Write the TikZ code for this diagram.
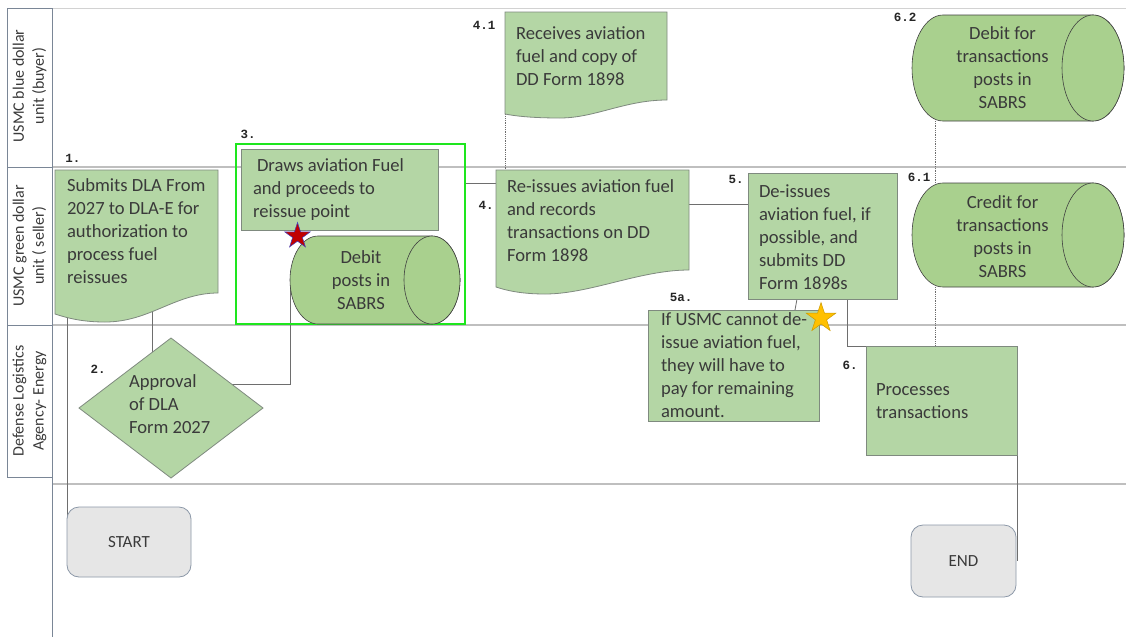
\documentclass[tikz,border=0pt]{standalone}
\usepackage{fontspec}
\setmainfont{Carlito}
\newfontfamily\labelmono{Liberation Mono}
\usetikzlibrary{shapes.geometric,calc}
\pgfdeclarelayer{lanes}\pgfdeclarelayer{links}\pgfdeclarelayer{shapes}
\pgfsetlayers{lanes,links,shapes,main}
\definecolor{boxgreen}{HTML}{B4D6A5}
\definecolor{cylgreen}{HTML}{A9D08E}
\definecolor{edgegray}{HTML}{7F8A7F}
\definecolor{txtgray}{HTML}{3A3A3A}
\definecolor{lanegray}{HTML}{BFBFBF}
\definecolor{labelline}{HTML}{7A8696}
\definecolor{termfill}{HTML}{E6E6E6}
\definecolor{termedge}{HTML}{8C98A8}
\definecolor{hlgreen}{HTML}{1EE61E}
\definecolor{linkgray}{HTML}{6E6E6E}
\definecolor{starred}{HTML}{C00000}
\definecolor{stargold}{HTML}{FFC000}
\tikzset{
 boxstyle/.style={draw=edgegray, fill=boxgreen, line width=0.8pt, inner sep=0pt, outer sep=0pt},
 docbox/.style={draw=none, inner sep=0pt, outer sep=0pt},
 docshape/.style={draw=edgegray, fill=boxgreen, line width=0.8pt},
 cylshape/.style={draw=black!75, fill=cylgreen, line width=0.6pt},
 txt/.style={text=txtgray, align=left, inner sep=0pt, outer sep=0pt, font=\fontsize{18.6}{23}\selectfont},
 ctxt/.style={txt, align=center},
 num/.style={text=black!85, inner sep=0pt, font=\labelmono\bfseries\fontsize{12.5}{15}\selectfont},
 lanelabel/.style={text=txtgray, align=center, rotate=90, inner sep=0pt, font=\fontsize{16}{20}\selectfont},
 term/.style={draw=termedge, fill=termfill, rounded corners=12pt, line width=0.8pt, inner sep=0pt, outer sep=0pt, text=txtgray, font=\fontsize{17}{20}\selectfont},
 link/.style={draw=linkgray, line width=0.8pt},
 dotlink/.style={draw=linkgray, line width=0.8pt, densely dotted},
 lane/.style={draw=lanegray, line width=2pt},
 labelrule/.style={draw=labelline, line width=1pt},
}
\begin{document}
\begin{tikzpicture}[x=1pt,y=-1pt]
\useasboundingbox (0,0) rectangle (1126,637);
% ---------- swimlanes ----------
\begin{pgfonlayer}{lanes}
\fill[white] (0,0) rectangle (1126,637);
\draw[draw=lanegray!70, line width=1pt] (7,8) -- (1126,8);
\draw[lane] (52,167) -- (1126,167);
\draw[lane] (52,325) -- (1126,325);
\draw[lane] (52,484) -- (1126,484);
\draw[labelrule] (7,8) rectangle (52,477);
\draw[labelrule] (7,167) -- (52,167);
\draw[labelrule] (7,325) -- (52,325);
\draw[labelrule] (52,8) -- (52,637);
\end{pgfonlayer}
\node[lanelabel] (lb1) at (29.5,86) {USMC blue dollar\\unit (buyer)};
\node[lanelabel] (lb2) at (29.5,246) {USMC green dollar\\unit ( seller)};
\node[lanelabel] (lb3) at (29.5,401) {Defense Logistics\\Agency- Energy};
% ---------- shapes ----------
\begin{pgfonlayer}{shapes}
\node[draw=hlgreen, line width=2.5pt, minimum width=229pt, minimum height=180pt, inner sep=0pt, outer sep=0pt] (hl) at (350.5,234) {};
\node[boxstyle, minimum width=197pt, minimum height=81pt] (n3) at (339.5,189.5) {};
\node[boxstyle, minimum width=149pt, minimum height=126pt] (n5) at (822.5,236) {};
\node[boxstyle, minimum width=171pt, minimum height=111pt] (n5a) at (733.5,365.5) {};
\node[boxstyle, minimum width=151pt, minimum height=109pt] (n6) at (941.5,400.5) {};
\node[boxstyle, diamond, aspect=1.314, minimum width=184pt, minimum height=140pt] (n2) at (171,408) {};
% documents
\node[docbox, minimum width=163pt, minimum height=123pt] (n1) at (136.5,231.5) {};
\path[docshape] (55,170) -- (218,170) -- (218,293) .. controls (175,293) and (150,322) .. (105,322) .. controls (85,322) and (70,319) .. (55,314) -- cycle;
\node[docbox, minimum width=162pt, minimum height=88pt] (n41) at (586,56) {};
\path[docshape] (505,12) -- (667,12) -- (667,100) .. controls (625,100) and (595,118) .. (560,118) .. controls (540,118) and (520,117) .. (505,114) -- cycle;
\node[docbox, minimum width=193pt, minimum height=100pt] (n4) at (592.5,220) {};
\path[docshape] (496,170) -- (689,170) -- (689,270) .. controls (640,270) and (590,294) .. (545,294) .. controls (520,294) and (505,290) .. (496,287) -- cycle;
% cylinders
\node[docbox, minimum width=142pt, minimum height=88pt] (c3) at (361,280) {};
\path[cylshape] ([xshift=28pt]c3.north west) -- (c3.north east) arc[start angle=90, end angle=-90, x radius=28pt, y radius=44pt] -- ([xshift=28pt]c3.south west) arc[start angle=270, end angle=90, x radius=28pt, y radius=44pt] -- cycle;
\draw[cylshape] (c3.east) ellipse [x radius=28pt, y radius=44pt];
\node[docbox, minimum width=181pt, minimum height=106pt] (c62) at (1002.5,68) {};
\path[cylshape] ([xshift=31pt]c62.north west) -- (c62.north east) arc[start angle=90, end angle=-90, x radius=31pt, y radius=53pt] -- ([xshift=31pt]c62.south west) arc[start angle=270, end angle=90, x radius=31pt, y radius=53pt] -- cycle;
\draw[cylshape] (c62.east) ellipse [x radius=31pt, y radius=53pt];
\node[docbox, minimum width=181pt, minimum height=104pt] (c61) at (1002.5,235) {};
\path[cylshape] ([xshift=31pt]c61.north west) -- (c61.north east) arc[start angle=90, end angle=-90, x radius=31pt, y radius=52pt] -- ([xshift=31pt]c61.south west) arc[start angle=270, end angle=90, x radius=31pt, y radius=52pt] -- cycle;
\draw[cylshape] (c61.east) ellipse [x radius=31pt, y radius=52pt];
% terminals
\node[term, minimum width=124pt, minimum height=70pt] (start) at (129,542) {START};
\node[term, minimum width=105pt, minimum height=72pt] (end) at (963.5,561) {END};
\end{pgfonlayer}
% ---------- connectors ----------
\begin{pgfonlayer}{links}
\coordinate (a1) at ([xshift=12pt]n1.south west);
\draw[link] (a1) -- (a1 |- start.west);
\coordinate (a2) at ([xshift=15.5pt]n1.south);
\draw[link] (a2) -- (a2 |- n2.center);
\draw[link] ([yshift=24pt]n2.center) -| (c3.west);
\coordinate (a3) at ([yshift=-39pt]hl.north east);
\draw[link] (a3) -- (a3 -| n4.west);
\coordinate (a4) at ([yshift=16pt]n4.east);
\draw[link] (a4) -- (a4 -| n5.west);
\draw[dotlink] (n41.south west) -- (n41.south west |- n4.north);
\coordinate (a5) at ([xshift=-25.5pt]n5.south);
\coordinate (a6) at ([xshift=-27.5pt]n5.south);
\draw[link] (a5) -- (a6 |- n5a.north);
\draw[link] ([xshift=24.5pt]n5.south) |- (n6.north west);
\coordinate (a7) at ([yshift=-25pt]n6.east);
\draw[link] (a7) -- (a7 |- end.east);
\coordinate (a8) at ([xshift=23pt]c62.south west);
\draw[dotlink] (a8) -- (a8 |- c61.north);
\coordinate (a9) at ([xshift=23pt]c61.south west);
\draw[dotlink] (a9) -- (a9 |- n6.north);
\end{pgfonlayer}
% ---------- texts ----------
\node[txt, anchor=west] (t1) at ([xshift=12pt]n1.west) {Submits DLA From\\2027 to DLA-E for\\authorization to\\process fuel\\reissues};
\node[txt, anchor=west] (t2) at ([xshift=-42pt,yshift=4pt]n2.center) {Approval\\of DLA\\Form 2027};
\node[txt, anchor=west] (t3) at ([xshift=12pt]n3.west) {\hspace*{4pt}Draws aviation Fuel\\and proceeds to\\reissue point};
\node[ctxt] (tc3) at (c3.center) {Debit\\posts in\\SABRS};
\node[txt, anchor=west] (t41) at ([xshift=11pt]n41.west) {Receives aviation\\fuel and copy of\\DD Form 1898};
\node[txt, anchor=west] (t4) at ([xshift=11pt,yshift=-1pt]n4.west) {Re-issues aviation fuel\\and records\\transactions on DD\\Form 1898};
\node[txt, anchor=west] (t5) at ([xshift=11pt,yshift=-1pt]n5.west) {De-issues\\aviation fuel, if\\possible, and\\submits DD\\Form 1898s};
\node[txt, anchor=west] (t5a) at ([xshift=13pt]n5a.west) {If USMC cannot de-\\issue aviation fuel,\\they will have to\\pay for remaining\\amount.};
\node[txt, anchor=west] (t6) at ([xshift=10pt,yshift=-1pt]n6.west) {Processes\\transactions};
\node[ctxt] (tc62) at (c62.center) {Debit for\\transactions\\posts in\\SABRS};
\node[ctxt] (tc61) at ([yshift=-2pt]c61.center) {Credit for\\transactions\\posts in\\SABRS};
% step numbers
\node[num] (l1) at (73,158) {1.};
\node[num] (l2) at (98,369) {2.};
\node[num] (l3) at (248,134) {3.};
\node[num] (l41) at (484,25) {4.1};
\node[num] (l4) at (486,205) {4.};
\node[num] (l5) at (736,179) {5.};
\node[num] (l5a) at (681,297) {5a.};
\node[num] (l6) at (850,365) {6.};
\node[num] (l61) at (919,177) {6.1};
\node[num] (l62) at (905,17) {6.2};
% stars
\node[star, star points=5, star point ratio=2.618, minimum size=27pt, inner sep=0pt, fill=starred, draw=blue!50!gray, line width=0.5pt] (s1) at (297.5,236) {};
\node[star, star points=5, star point ratio=2.618, minimum size=31pt, inner sep=0pt, fill=stargold, draw=stargold!80!black, line width=0.5pt] (s2) at (821,318) {};
\end{tikzpicture}
\end{document}
